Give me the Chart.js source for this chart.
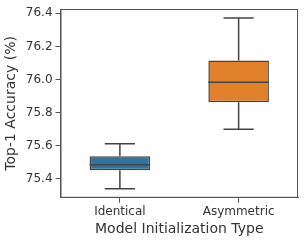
<!DOCTYPE html>
<html>
<head>
<meta charset="utf-8">
<script src="https://cdn.jsdelivr.net/npm/chart.js@4"></script>
<style>
  html, body { margin: 0; padding: 0; background: #fff; }
  #wrap { width: 305px; height: 241px; }
</style>
</head>
<body>
<div id="wrap"><canvas id="chart"></canvas></div>
<script>
// datos
const categorias = ["Identical", "Asymmetric"];
const minimos = [75.34, 75.70];
const q1 = [75.452, 75.862];
const medianas = [75.485, 75.984];
const q3 = [75.537, 76.115];
const maximos = [75.612, 76.372];
const yTicks = [75.4, 75.6, 75.8, 76.0, 76.2, 76.4];
const colores = ["#3274a1", "#e1812c"];

const lineaColor = "#444444";
const fuente = "'DejaVu Sans', sans-serif";

// dibuja bigotes, medianas y el marco
const bigotesPlugin = {
  id: "bigotes",
  afterDatasetsDraw(chart) {
    const ctx = chart.ctx;
    const x = chart.scales.x;
    const y = chart.scales.y;
    const meta = chart.getDatasetMeta(0);
    ctx.save();
    ctx.strokeStyle = lineaColor;
    ctx.lineWidth = 1.5;
    categorias.forEach((c, i) => {
      const cx = x.getPixelForValue(i);
      const bar = meta.data[i];
      const media = bar.width / 2;
      const cap = media / 2;
      ctx.beginPath();
      // bigote superior
      ctx.moveTo(cx, y.getPixelForValue(q3[i]));
      ctx.lineTo(cx, y.getPixelForValue(maximos[i]));
      ctx.moveTo(cx - cap, y.getPixelForValue(maximos[i]));
      ctx.lineTo(cx + cap, y.getPixelForValue(maximos[i]));
      // bigote inferior
      ctx.moveTo(cx, y.getPixelForValue(q1[i]));
      ctx.lineTo(cx, y.getPixelForValue(minimos[i]));
      ctx.moveTo(cx - cap, y.getPixelForValue(minimos[i]));
      ctx.lineTo(cx + cap, y.getPixelForValue(minimos[i]));
      // mediana
      ctx.moveTo(cx - media, y.getPixelForValue(medianas[i]));
      ctx.lineTo(cx + media, y.getPixelForValue(medianas[i]));
      ctx.stroke();
    });
    // marco
    const a = chart.chartArea;
    ctx.strokeStyle = "#555555";
    ctx.lineWidth = 1;
    ctx.strokeRect(a.left + 0.5, a.top + 0.5, a.right - a.left - 1, a.bottom - a.top - 1);
    ctx.restore();
  }
};

const ctx = document.getElementById("chart").getContext("2d");
new Chart(ctx, {
  type: "bar",
  data: {
    labels: categorias,
    datasets: [
      {
        data: categorias.map((c, i) => [q1[i], q3[i]]),
        backgroundColor: colores,
        borderColor: lineaColor,
        borderWidth: 1.5,
        borderSkipped: false,
        barPercentage: 0.51,
        categoryPercentage: 1,
      },
    ],
  },
  options: {
    responsive: true,
    maintainAspectRatio: false,
    animation: false,
    layout: { padding: { top: 1, right: 7, left: 3, bottom: 3 } },
    plugins: {
      legend: { display: false },
      tooltip: { enabled: false },
    },
    scales: {
      x: {
        grid: { offset: false, drawOnChartArea: false, tickLength: 5, tickColor: "#555555", tickWidth: 1 },
        border: { color: "#555555" },
        ticks: { color: "#333333", font: { family: fuente, size: 12 }, padding: 2 },
        title: {
          display: true,
          text: "Model Initialization Type",
          color: "#333333",
          font: { family: fuente, size: 14 },
          padding: { top: 0, bottom: 0 },
        },
      },
      y: {
        min: 75.2855,
        max: 76.426,
        afterBuildTicks: (axis) => {
          axis.ticks = yTicks.map((v) => ({ value: v }));
        },
        grid: { drawOnChartArea: false, tickLength: 5, tickColor: "#555555", tickWidth: 1 },
        border: { color: "#555555" },
        ticks: {
          color: "#333333",
          font: { family: fuente, size: 12, lineHeight: 1 },
          padding: 3,
          callback: (v) => v.toFixed(1),
        },
        title: {
          display: true,
          text: "Top-1 Accuracy (%)",
          color: "#333333",
          font: { family: fuente, size: 14 },
          padding: { top: 0, bottom: 3 },
        },
      },
    },
  },
  plugins: [bigotesPlugin],
});
</script>
</body>
</html>
